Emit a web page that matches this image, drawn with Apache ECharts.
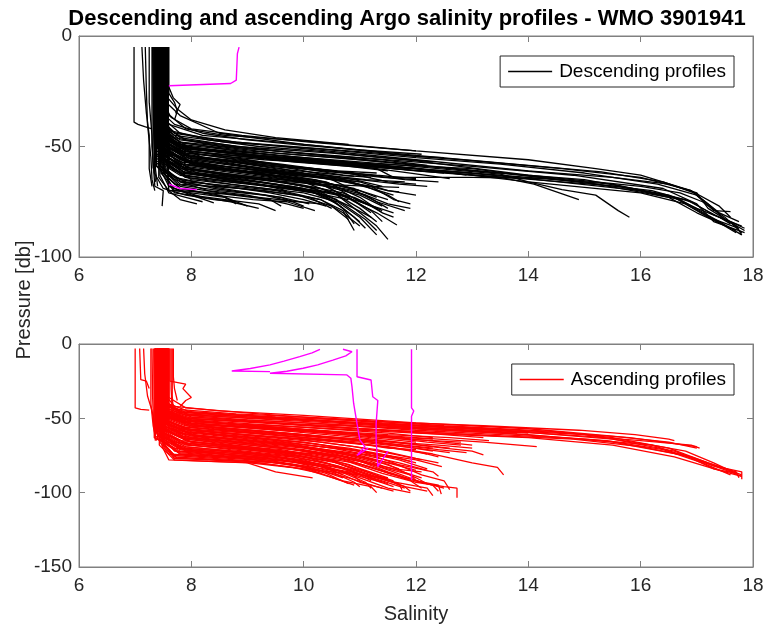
<!DOCTYPE html>
<html>
<head>
<meta charset="utf-8">
<script src="https://cdn.jsdelivr.net/npm/echarts@6/dist/echarts.min.js"></script>
<style>html,body{margin:0;padding:0;background:#fff}#c{width:768px;height:629px}</style>
</head>
<body>
<div id="c"></div>
<script>
// ---- Data: salinity / pressure profiles [salinity, pressure] ----
const titleText = 'Descending and ascending Argo salinity profiles - WMO 3901941';
const salinityTicks = [6, 8, 10, 12, 14, 16, 18];
const descPressureTicks = [0, -50, -100];
const ascPressureTicks = [0, -50, -100, -150];

const descProfiles = [
  [[7.50,-5],[7.50,-30],[7.62,-36],[7.9,-42],[8.6,-45],[10.0,-47.5],[12.0,-52],[14.0,-56],[15.2,-60],[16.0,-63],[16.9,-70],[17.2,-76],[17.5,-83],[17.85,-88]],
  [[7.45,-5],[7.45,-33],[7.6,-40],[8.2,-45],[10.0,-49],[12.0,-54],[14.0,-58.5],[15.3,-61.5],[16.4,-66],[16.95,-71],[17.3,-79],[17.6,-79.5]],
  [[7.40,-5],[7.42,-36],[7.65,-43],[8.4,-47],[10.0,-51],[12.0,-56],[14.0,-61],[15.5,-64],[16.5,-67],[17.0,-71],[17.2,-78],[17.7,-86],[17.8,-90]],
  [[7.55,-5],[7.55,-40],[7.8,-46],[8.8,-50],[10.5,-53],[12.0,-56.5],[14.0,-63],[16.0,-68],[16.7,-71],[17.1,-75],[17.5,-82],[17.8,-89]],
  [[7.35,-5],[7.38,-42],[7.7,-48],[9.0,-52],[11.0,-56],[13.0,-61],[15.0,-65],[16.5,-72],[17.0,-78],[17.6,-84],[17.85,-87]],
  [[7.48,-5],[7.48,-44],[7.75,-49],[9.0,-54],[11.0,-58],[12.5,-61],[14.0,-64.5],[16.0,-70],[16.8,-74],[17.4,-82],[17.6,-85]],
  [[7.52,-5],[7.52,-41],[7.9,-47],[9.5,-52],[11.5,-57],[13.5,-62],[15.0,-66],[16.5,-73],[17.0,-80],[17.7,-88]],
  [[7.42,-5],[7.44,-45],[7.8,-51],[9.5,-55],[11.5,-59],[13.5,-63],[15.5,-67],[16.6,-73],[17.2,-82],[17.75,-87]],
  [[7.46,-5],[7.46,-43],[7.8,-49],[9.2,-53],[11.0,-57.5],[13.0,-60],[14.5,-65],[16.2,-70],[16.9,-75],[17.3,-81],[17.8,-86]],
  [[7.38,-5],[7.40,-46],[7.85,-52],[10.0,-57],[12.0,-60],[14.0,-66],[16.0,-71],[16.8,-76],[17.3,-83],[17.7,-89]],
  [[7.44,-5],[7.44,-39],[7.7,-45],[8.6,-48],[10.2,-51],[12.0,-55],[13.5,-58],[15.0,-62],[16.3,-67],[17.0,-72],[17.4,-80],[17.75,-84]],
  [[7.49,-5],[7.49,-42],[7.8,-48],[9.0,-51],[11.0,-55],[13.0,-59],[14.8,-63],[16.4,-69],[17.0,-76],[17.3,-84],[17.85,-89]],
  [[7.41,-5],[7.41,-37],[7.7,-44],[8.8,-48],[10.8,-52],[12.8,-56],[14.6,-60],[16.0,-64],[16.9,-70],[17.4,-77],[17.6,-82]],
  [[7.54,-5],[7.54,-46],[7.9,-52],[9.6,-56],[11.6,-60],[13.6,-64],[15.6,-68],[16.7,-74],[17.4,-84],[17.8,-90]],
  [[7.44,-5],[7.45,-44],[7.8,-50],[9.5,-54],[11.5,-58],[13.5,-62.5],[14.0,-66],[14.6,-69.5],[15.2,-72],[15.6,-79],[15.8,-82]],
  [[7.50,-5],[7.50,-45],[7.9,-51],[10.0,-56],[12.0,-61],[13.5,-64],[14.1,-67],[14.9,-74]],
  [[7.47,-5],[7.47,-42],[7.8,-50],[9.5,-56],[11.3,-60],[11.6,-64],[13.0,-64],[14.45,-64.5]],
  [[7.36,-5],[7.37,-47],[7.9,-55],[9.5,-61],[11.0,-66],[11.5,-70],[11.7,-70.5]],
  [[7.53,-5],[7.53,-48],[8.0,-56],[10.0,-63],[11.2,-68],[11.6,-74],[11.9,-76]],
  [[7.58,-5],[7.58,-28],[7.75,-33],[8.0,-38],[8.6,-42.5],[9.5,-46],[10.8,-49]],
  [[7.50,-5],[7.55,-30],[7.8,-36],[8.5,-44],[10.0,-49],[12.0,-54.5],[12.5,-55]],
  [[7.37,-5],[7.37,-43],[7.8,-50],[9.2,-54],[10.8,-57],[12.0,-60],[12.9,-63]],
  [[7.50,-5],[7.50,-47],[7.9,-54],[9.4,-58],[10.9,-62],[11.8,-65],[12.4,-66]],
  [[7.45,-5],[7.45,-40],[7.8,-47],[9.0,-51],[10.4,-54],[11.4,-56],[12.2,-58.5]],
  [[7.56,-5],[7.56,-44],[8.0,-51],[9.5,-55],[11.0,-59],[11.9,-62],[12.6,-64.5]],
  [[7.53,-5],[7.53,-38],[7.8,-44],[8.3,-47],[9.2,-50],[10.2,-52],[11.2,-54.5],[12.3,-57]],
  [[7.45,-5],[7.45,-34],[7.7,-40],[8.2,-44],[9.0,-47],[10.0,-49.5],[11.0,-51.5],[12.1,-53.5]],
  [[7.41,-5],[7.41,-31],[7.65,-37],[8.0,-42],[8.9,-45],[10.1,-48],[11.5,-51],[12.0,-52]],
  [[7.45,-5],[7.45,-50],[7.8,-58],[9.0,-62],[10.0,-66],[10.6,-72],[11.0,-80],[11.3,-86],[11.5,-92]],
  [[7.40,-5],[7.42,-52],[7.9,-60],[9.2,-64],[10.2,-69],[10.7,-76],[11.1,-83],[11.3,-88]],
  [[7.50,-5],[7.50,-49],[8.0,-57],[9.5,-62],[10.4,-68],[10.9,-75],[11.3,-80],[11.66,-85.5]],
  [[7.55,-5],[7.55,-47],[8.2,-55],[9.6,-60],[10.5,-65],[11.0,-71],[11.5,-76],[11.9,-78]],
  [[7.34,-5],[7.36,-53],[7.9,-61],[9.0,-65],[10.0,-69],[10.5,-74],[10.8,-80],[11.0,-84]],
  [[7.48,-5],[7.48,-51],[8.1,-59],[9.4,-63],[10.3,-67],[10.8,-73],[11.2,-79],[11.4,-84]],
  [[7.43,-5],[7.43,-48],[8.0,-55],[9.8,-60],[10.6,-64],[11.1,-68],[11.5,-72],[11.7,-75]],
  [[7.52,-5],[7.52,-54],[8.0,-62],[9.2,-66],[10.1,-70],[10.6,-76],[10.9,-82],[11.1,-87]],
  [[7.38,-5],[7.38,-50],[7.9,-57],[9.3,-61],[10.4,-66],[11.0,-73],[11.4,-80],[11.6,-82]],
  [[7.46,-5],[7.46,-55],[8.2,-63],[9.5,-67],[10.3,-71],[10.7,-78],[10.9,-85]],
  [[7.41,-5],[7.41,-46],[7.9,-53],[9.6,-58],[10.8,-62],[11.5,-66],[12.0,-67]],
  [[7.57,-5],[7.57,-52],[8.3,-60],[9.8,-64],[10.6,-69],[11.0,-75],[11.3,-78]],
  [[7.39,-5],[7.39,-45],[7.8,-52],[8.8,-56],[9.8,-59],[10.6,-61],[11.3,-62]],
  [[7.47,-5],[7.47,-49],[7.9,-55],[9.0,-59],[10.0,-62],[10.9,-65],[11.4,-68]],
  [[7.52,-5],[7.52,-51],[8.0,-58],[9.1,-62],[10.1,-65],[10.9,-69],[11.3,-73]],
  [[7.43,-5],[7.43,-53],[7.9,-60],[8.9,-64],[9.9,-67],[10.7,-71],[11.2,-77],[11.4,-80]],
  [[7.35,-5],[7.35,-56],[7.8,-63],[8.8,-66],[9.7,-69],[10.4,-72],[10.9,-78],[11.2,-82]],
  [[7.58,-5],[7.58,-58],[8.0,-65],[9.0,-68],[10.0,-71],[10.6,-75],[11.0,-82],[11.3,-90]],
  [[7.48,-5],[7.48,-60],[7.8,-67],[8.9,-69],[9.9,-72],[10.5,-77],[10.8,-83]],
  [[7.40,-5],[7.40,-47],[7.8,-53],[8.7,-57],[9.5,-60],[10.3,-62],[10.9,-63.5]],
  [[7.54,-5],[7.54,-50],[7.9,-57],[8.8,-61],[9.6,-64],[10.4,-66.5],[11.0,-70]],
  [[7.44,-5],[7.44,-54],[7.8,-61],[8.6,-65],[9.4,-68],[10.2,-71],[10.6,-74]],
  [[7.36,-5],[7.36,-57],[7.7,-64],[8.5,-68],[9.3,-70],[10.1,-73],[10.5,-78]],
  [[7.51,-5],[7.51,-59],[7.8,-66],[8.3,-70],[9.0,-72],[9.7,-76],[10.0,-78]],
  [[7.46,-5],[7.46,-62],[7.7,-69],[8.2,-73],[8.7,-75],[9.2,-78]],
  [[7.42,-5],[7.42,-64],[7.6,-70],[7.8,-74],[8.1,-76]],
  [[7.57,-5],[7.57,-55],[8.0,-60],[8.8,-63],[9.6,-65],[10.4,-68],[11.0,-72],[11.4,-77]],
  [[7.38,-5],[7.38,-52],[7.8,-58],[8.7,-61],[9.7,-64],[10.5,-67],[11.0,-70],[11.5,-74]],
  [[7.49,-5],[7.49,-46],[7.9,-52],[8.7,-54],[9.8,-57],[10.8,-59],[11.5,-61]],
  [[7.59,-5],[7.59,-66],[7.7,-71],[8.0,-72],[8.6,-74],[9.2,-76],[9.5,-79]],
  [[7.34,-5],[7.34,-62],[7.5,-69],[7.9,-72],[8.4,-74],[8.8,-75]],
  [[7.50,-5],[7.50,-55],[7.9,-62],[8.9,-66],[9.8,-69],[10.5,-71],[11.0,-75],[11.6,-80]],
  [[7.47,-5],[7.47,-57],[7.9,-63],[8.7,-66],[9.5,-68],[10.3,-70],[10.9,-73],[11.4,-79]],
  [[7.55,-5],[7.55,-53],[8.1,-58],[9.0,-61],[10.0,-63],[10.8,-66],[11.5,-70],[12.0,-72]],
  [[7.39,-5],[7.39,-49],[7.9,-56],[8.6,-59],[9.4,-61],[10.4,-63],[11.1,-65],[11.8,-66]],
  [[7.43,-5],[7.43,-60],[7.9,-66],[8.8,-68],[9.5,-70],[10.3,-74],[10.7,-80],[11.0,-86]],
  [[7.42,-5],[7.42,-48],[7.85,-54],[8.9,-57],[9.9,-60],[10.7,-62],[11.4,-64],[12.0,-65]],
  [[7.52,-5],[7.52,-52],[7.9,-59],[8.8,-62],[9.7,-65],[10.5,-68],[11.1,-72],[11.5,-78]],
  [[7.37,-5],[7.37,-54],[7.8,-60],[8.6,-63],[9.5,-66],[10.3,-69],[10.8,-73],[11.2,-80]],
  [[7.55,-5],[7.55,-57],[7.9,-64],[8.7,-67],[9.6,-70],[10.3,-74],[10.7,-79],[10.9,-88]],
  [[7.45,-5],[7.45,-59],[7.8,-65],[8.6,-68],[9.4,-71],[10.0,-74],[10.4,-77]],
  [[7.49,-5],[7.49,-56],[7.9,-62],[9.0,-64],[10.1,-66],[10.9,-70],[11.3,-75],[11.8,-79]],
  [[7.40,-5],[7.40,-51],[7.8,-57],[8.9,-60],[10.0,-63],[11.0,-65],[11.7,-67],[12.2,-68]],
  [[7.58,-5],[7.58,-49],[8.0,-55],[9.2,-58],[10.4,-61],[11.3,-63],[12.0,-64.5]],
  [[7.44,-5],[7.44,-47],[7.9,-53],[9.3,-56],[10.6,-58],[11.6,-60],[12.5,-62]],
  [[7.51,-5],[7.51,-61],[7.8,-68],[8.5,-71],[9.2,-73],[9.9,-75],[10.3,-76]],
  [[7.35,-5],[7.35,-58],[7.7,-65],[8.4,-69],[9.0,-71],[9.6,-73],[10.1,-76]],
  [[7.47,-5],[7.47,-52],[7.9,-58],[8.9,-61],[9.8,-63],[10.6,-65],[11.2,-69],[11.6,-72]],
  [[7.56,-5],[7.56,-46],[8.0,-51],[9.0,-54],[10.1,-57],[11.2,-59],[11.9,-60]],
  [[7.41,-5],[7.41,-55],[7.8,-62],[8.8,-65],[9.8,-68],[10.6,-72],[11.0,-78],[11.3,-84]],
  [[7.53,-5],[7.53,-63],[7.8,-69],[8.4,-72],[9.1,-74],[9.7,-75],[10.2,-79]],
  [[7.38,-5],[7.38,-44],[7.8,-50],[8.8,-53],[10.0,-56],[11.2,-58],[12.4,-61],[13.0,-62]],
  [[7.44,-5],[7.44,-60],[7.6,-68],[8.0,-72],[8.4,-75.5]],
  [[7.50,-5],[7.50,-62],[7.8,-69],[8.5,-72],[9.0,-77]],
  [[7.40,-5],[7.42,-58],[7.8,-66],[8.8,-70],[9.6,-73],[10.0,-77]],
  [[7.47,-5],[7.47,-57],[7.9,-64],[9.0,-67],[10.0,-70],[10.8,-74]],
  [[7.53,-5],[7.53,-56],[8.0,-62],[9.2,-65],[10.3,-67],[11.2,-68],[11.7,-68.5]],
  [[7.37,-5],[7.38,-59],[7.7,-67],[8.5,-70],[9.3,-72],[9.8,-75]],
  [[7.49,-5],[7.50,-61],[7.7,-70],[8.0,-71],[8.6,-73],[8.8,-76]],
  [[7.43,-5],[7.44,-63],[7.6,-71],[7.9,-73],[8.2,-75]],
  [[7.55,-5],[7.55,-45],[8.0,-52],[9.0,-56],[10.0,-60],[10.7,-63],[11.2,-64]],
  [[7.39,-5],[7.40,-48],[7.9,-54],[8.8,-58],[9.8,-62],[10.5,-64.5],[11.0,-66]],
  [[7.46,-5],[7.46,-50],[7.8,-56],[8.6,-60],[9.5,-63],[10.2,-65],[10.5,-67]],
  [[7.51,-5],[7.51,-53],[7.8,-59],[8.7,-63],[9.6,-66],[10.0,-68],[10.3,-70]],
  [[7.36,-5],[7.36,-55],[7.7,-61],[8.4,-64],[9.2,-67],[9.7,-70]],
  [[7.58,-5],[7.58,-64],[7.60,-70],[7.8,-70],[8.6,-71.5],[9.4,-74],[9.6,-77]],
  [[7.42,-5],[7.42,-40],[7.7,-46],[8.5,-50],[9.5,-53],[10.6,-55],[11.4,-57]],
  [[7.47,-5],[7.47,-43],[7.8,-48],[8.8,-52],[10.0,-55.5],[11.0,-58],[12.1,-60]],
  [[6.98,-5],[6.98,-39],[7.05,-40],[7.17,-41],[7.3,-42]],
  [[7.12,-5],[7.15,-20],[7.20,-35],[7.25,-45],[7.25,-60],[7.30,-68]],
  [[7.18,-5],[7.20,-25],[7.22,-40],[7.28,-55],[7.30,-65],[7.35,-70]],
  [[7.25,-5],[7.25,-30],[7.30,-45],[7.32,-60]],
  [[7.30,-5],[7.30,-50],[7.35,-68],[7.50,-70],[7.48,-77]],
  [[7.33,-5],[7.33,-40],[7.36,-60],[7.40,-68]],
  [[7.31,-5],[7.32,-30],[7.34,-55],[7.36,-66]],
  [[7.56,-5],[7.56,-35],[7.62,-45],[7.60,-60]],
  [[7.60,-5],[7.60,-26],[7.70,-30],[7.75,-34],[7.70,-38]],
  [[7.57,-5],[7.58,-22],[7.68,-28],[7.80,-31],[7.72,-35]]
];
const descAnomalies = [
  [[8.85,-5],[8.82,-8],[8.80,-20],[8.70,-21.5],[7.60,-22.5]],
  [[7.60,-67],[7.80,-69],[8.10,-69.5]]
];

const ascProfiles = [
  [[7.55,-3],[7.55,-35],[7.7,-42],[8.5,-45],[10.0,-48],[12.0,-53],[14.0,-57],[15.5,-62],[16.5,-66],[17.0,-70]],
  [[7.50,-3],[7.50,-38],[7.75,-44],[8.8,-47],[10.5,-50],[12.5,-55],[14.5,-59],[15.5,-63],[16.5,-70],[17.2,-80],[17.7,-86],[17.75,-90]],
  [[7.45,-3],[7.46,-40],[7.8,-46],[9.0,-49],[11.0,-53],[13.0,-57],[15.0,-61],[16.2,-68],[17.0,-78],[17.6,-86],[17.8,-89]],
  [[7.60,-3],[7.60,-36],[7.9,-43],[9.2,-47],[11.4,-53],[13.5,-58],[15.5,-64],[16.6,-72],[17.3,-82],[17.8,-86],[17.8,-91]],
  [[7.40,-3],[7.42,-42],[7.85,-49],[9.5,-52],[11.5,-56],[13.5,-60],[15.4,-65],[16.4,-71],[17.1,-80],[17.6,-88]],
  [[7.52,-3],[7.52,-44],[8.0,-50],[10.0,-54],[12.0,-57],[14.0,-61],[15.5,-66],[16.8,-75],[17.3,-84],[17.7,-87]],
  [[7.48,-3],[7.48,-39],[7.9,-46],[9.8,-50],[11.5,-54],[13.5,-58.5],[15.0,-62],[16.0,-65],[16.9,-68],[17.05,-70]],
  [[7.35,-3],[7.36,-45],[7.9,-52],[10.0,-56],[12.0,-60],[14.0,-63],[15.5,-68],[16.6,-76],[17.4,-85],[17.8,-89]],
  [[7.47,-3],[7.47,-42],[7.9,-48],[9.0,-51],[10.5,-54],[12.0,-58],[13.5,-61],[15.0,-64],[16.2,-68],[16.8,-72],[17.3,-80],[17.7,-87]],
  [[7.53,-3],[7.53,-41],[7.9,-47],[9.5,-50],[11.0,-53],[12.8,-56],[14.5,-59.5],[15.8,-63],[16.6,-67],[17.0,-69]],
  [[7.42,-3],[7.42,-43],[7.8,-50],[9.2,-53],[11.0,-57],[13.0,-61],[14.8,-64],[16.0,-69],[16.9,-76],[17.5,-84],[17.8,-88]],
  [[7.58,-3],[7.58,-40],[8.0,-46],[9.5,-49],[11.2,-52],[13.2,-55],[14.9,-58],[15.9,-61],[16.5,-64],[16.6,-65]],
  [[7.50,-3],[7.50,-46],[8.0,-53],[10.0,-58],[12.0,-63],[13.2,-66],[14.15,-69]],
  [[7.44,-3],[7.44,-50],[8.0,-58],[10.0,-64],[11.5,-69],[12.3,-74],[13.0,-80],[13.45,-83],[13.56,-88]],
  [[7.56,-3],[7.56,-48],[8.1,-55],[10.0,-61],[11.6,-66],[12.5,-70],[13.0,-72],[13.2,-74.6]],
  [[7.38,-3],[7.40,-52],[8.0,-60],[9.6,-66],[11.0,-72],[12.0,-78],[12.46,-82.5]],
  [[7.46,-3],[7.46,-47],[8.0,-54],[10.0,-59],[11.8,-64],[12.8,-66]],
  [[7.53,-3],[7.53,-43],[8.0,-49],[9.5,-53],[11.0,-57],[12.5,-60],[13.5,-62]],
  [[7.49,-3],[7.49,-48],[8.0,-55],[9.6,-60],[11.2,-65],[12.4,-68],[13.0,-70]],
  [[7.40,-3],[7.40,-49],[7.9,-56],[9.4,-61],[11.0,-66],[12.0,-70],[12.6,-73]],
  [[7.55,-3],[7.55,-46],[8.0,-52],[9.8,-57],[11.5,-61],[12.6,-63],[13.3,-65]],
  [[7.45,-3],[7.45,-39],[7.8,-45],[8.6,-47],[9.6,-50],[10.8,-53],[12.0,-56],[13.0,-58],[14.0,-60]],
  [[7.42,-3],[7.42,-55],[8.0,-63],[9.5,-69],[10.5,-75],[11.3,-84],[12.0,-93],[12.5,-96],[12.73,-97],[12.73,-103.5]],
  [[7.50,-3],[7.50,-57],[8.0,-66],[9.5,-72],[10.5,-79],[11.2,-88],[11.8,-96],[12.2,-99]],
  [[7.36,-3],[7.38,-60],[7.9,-69],[9.2,-74],[10.3,-81],[11.0,-90],[11.5,-97],[11.9,-100]],
  [[7.58,-3],[7.58,-54],[8.1,-62],[9.8,-68],[10.8,-76],[11.5,-86],[12.0,-92],[12.4,-95],[12.45,-101]],
  [[7.45,-3],[7.45,-62],[7.9,-71],[9.0,-76],[10.0,-82],[10.8,-90],[11.3,-96],[11.6,-99]],
  [[7.52,-3],[7.52,-58],[8.0,-66],[9.6,-71],[10.7,-78],[11.4,-87],[11.9,-92],[12.1,-97]],
  [[7.40,-3],[7.40,-64],[7.8,-73],[9.0,-77],[10.0,-83],[10.6,-91],[10.9,-95]],
  [[7.48,-3],[7.48,-66],[7.7,-76],[9.0,-79],[10.0,-84],[10.7,-92],[11.2,-96],[11.3,-100]],
  [[7.55,-3],[7.55,-52],[8.2,-60],[10.0,-66],[11.0,-72],[11.6,-80],[12.1,-88],[12.5,-92],[12.6,-98]],
  [[7.33,-3],[7.34,-63],[7.8,-72],[9.2,-76],[10.4,-83],[11.0,-93],[11.4,-97]],
  [[7.47,-3],[7.47,-59],[8.0,-68],[9.5,-73],[10.6,-80],[11.2,-89],[11.7,-94],[11.75,-98]],
  [[7.43,-3],[7.43,-68],[7.7,-78],[9.0,-80],[9.5,-86],[10.16,-90]],
  [[7.50,-3],[7.50,-67],[7.75,-77],[8.8,-79],[10.0,-84],[11.0,-88],[11.5,-90]],
  [[7.60,-3],[7.60,-56],[8.3,-64],[10.0,-70],[11.0,-76],[11.8,-82],[12.3,-86],[12.4,-89]],
  [[7.39,-3],[7.39,-61],[7.9,-70],[9.4,-75],[10.8,-84],[11.5,-92],[12.2,-97],[12.3,-102]],
  [[7.46,-3],[7.46,-45],[8.0,-52],[9.5,-56],[10.8,-60],[11.6,-63]],
  [[7.54,-3],[7.54,-49],[8.0,-56],[9.5,-61],[10.8,-66],[11.5,-70],[12.0,-71]],
  [[7.41,-3],[7.42,-51],[7.9,-59],[9.3,-64],[10.5,-70],[11.2,-75],[11.6,-76]],
  [[7.57,-3],[7.57,-47],[8.2,-54],[9.8,-59],[11.0,-63],[11.9,-67]],
  [[7.49,-3],[7.49,-53],[8.0,-61],[9.5,-67],[10.6,-73],[11.2,-79],[11.4,-82]],
  [[7.37,-3],[7.37,-56],[7.9,-64],[9.0,-69],[10.0,-74],[10.6,-79]],
  [[7.44,-3],[7.44,-41],[7.8,-47],[9.0,-50],[10.5,-53],[11.8,-56],[12.4,-58]],
  [[7.51,-3],[7.51,-65],[7.8,-74],[9.0,-77],[10.0,-80],[10.8,-86],[11.0,-92]],
  [[7.45,-3],[7.45,-54],[8.0,-62],[9.8,-68],[11.0,-75],[11.7,-82],[12.0,-85]],
  [[7.58,-3],[7.58,-50],[8.4,-57],[10.0,-62],[11.3,-66],[12.3,-70]],
  [[7.45,-3],[7.45,-44],[7.9,-51],[8.8,-54],[9.8,-57],[10.8,-60],[11.8,-63],[12.3,-64]],
  [[7.51,-3],[7.51,-47],[7.9,-54],[9.0,-58],[10.0,-61],[11.0,-65],[11.8,-69],[12.3,-72]],
  [[7.38,-3],[7.38,-50],[7.8,-57],[8.9,-61],[9.9,-64],[10.9,-69],[11.6,-74],[12.1,-78]],
  [[7.56,-3],[7.56,-52],[8.0,-59],[9.2,-63],[10.2,-67],[11.0,-72],[11.7,-78],[12.2,-84]],
  [[7.43,-3],[7.43,-54],[7.9,-61],[9.0,-65],[10.0,-69],[10.8,-74],[11.5,-81],[12.0,-90],[12.2,-94]],
  [[7.48,-3],[7.48,-56],[7.9,-63],[9.0,-67],[10.0,-71],[10.9,-77],[11.6,-86],[12.1,-93],[12.5,-97]],
  [[7.36,-3],[7.36,-58],[7.8,-65],[9.0,-69],[10.0,-74],[10.8,-81],[11.4,-90],[11.8,-96],[11.9,-99]],
  [[7.53,-3],[7.53,-60],[7.9,-68],[9.0,-71],[10.0,-76],[10.7,-83],[11.3,-92],[11.6,-96]],
  [[7.41,-3],[7.41,-62],[7.8,-70],[9.0,-73],[10.0,-78],[10.6,-85],[11.1,-93],[11.2,-97]],
  [[7.59,-3],[7.59,-64],[7.9,-72],[8.8,-75],[9.8,-79],[10.5,-86],[10.9,-93],[11.0,-96]],
  [[7.46,-3],[7.46,-65],[7.8,-74],[8.9,-77],[9.8,-81],[10.4,-87],[10.8,-94]],
  [[7.50,-3],[7.50,-68],[7.7,-77],[8.5,-78],[9.6,-80],[10.3,-85],[10.7,-90]],
  [[7.44,-3],[7.44,-51],[7.9,-58],[9.1,-62],[10.3,-66],[11.3,-71],[12.0,-77],[12.4,-80]],
  [[7.57,-3],[7.57,-45],[8.0,-51],[9.0,-55],[10.2,-58],[11.4,-62],[12.5,-66],[13.0,-68]],
  [[7.39,-3],[7.39,-53],[7.8,-60],[8.8,-64],[9.8,-67],[10.8,-71],[11.6,-76],[12.0,-80]],
  [[7.52,-3],[7.52,-55],[7.9,-63],[8.8,-66],[9.7,-70],[10.6,-75],[11.3,-82],[11.9,-88],[12.0,-92]],
  [[7.47,-3],[7.47,-61],[7.8,-69],[8.8,-72],[9.8,-76],[10.6,-82],[11.2,-90],[11.5,-94]],
  [[7.35,-3],[7.35,-57],[7.7,-66],[8.6,-69],[9.6,-73],[10.5,-79],[11.2,-87],[11.6,-92]],
  [[7.55,-3],[7.55,-63],[7.8,-71],[8.6,-74],[9.5,-77],[10.4,-83],[11.0,-89],[11.4,-93]],
  [[7.42,-3],[7.42,-58],[7.8,-66],[8.8,-70],[9.9,-74],[10.9,-80],[11.8,-90],[12.3,-95],[12.4,-99]],
  [[7.49,-3],[7.49,-66],[7.7,-75],[8.4,-77],[9.2,-79],[10.0,-82],[10.9,-87],[11.5,-91],[11.7,-95]],
  [[7.60,-3],[7.60,-48],[8.1,-55],[9.2,-59],[10.4,-63],[11.5,-67],[12.4,-71],[12.9,-73]],
  [[7.37,-3],[7.37,-46],[7.9,-53],[9.0,-56],[10.2,-59],[11.3,-62],[12.2,-66],[12.8,-68]],
  [[7.54,-3],[7.54,-59],[7.9,-67],[9.0,-70],[10.2,-74],[11.0,-79],[11.6,-84],[12.1,-86]],
  [[7.48,-3],[7.48,-69],[7.6,-78],[8.3,-79],[9.2,-80],[9.8,-83],[10.3,-87]],
  [[7.43,-3],[7.43,-44],[7.9,-50],[9.0,-52],[10.2,-55],[11.4,-58],[12.5,-61],[13.2,-63]],
  [[7.57,-3],[7.57,-42],[8.0,-48],[9.2,-50],[10.4,-52],[11.6,-55],[12.8,-58],[13.8,-60]],
  [[7.39,-3],[7.39,-47],[7.9,-53],[9.0,-56],[10.2,-59],[11.2,-63],[12.0,-66]],
  [[7.50,-3],[7.50,-50],[7.9,-57],[9.0,-60],[10.0,-63],[11.0,-67],[11.8,-71],[12.2,-74]],
  [[7.46,-3],[7.46,-52],[7.9,-59],[8.9,-63],[9.9,-66],[10.8,-70],[11.5,-75],[11.9,-79]],
  [[7.54,-3],[7.54,-54],[7.9,-61],[8.9,-64],[9.9,-68],[10.7,-73],[11.3,-79],[11.7,-84]],
  [[7.41,-3],[7.41,-56],[7.8,-63],[8.8,-67],[9.8,-71],[10.6,-76],[11.2,-83],[11.6,-88]],
  [[7.59,-3],[7.59,-58],[7.9,-65],[8.8,-69],[9.8,-73],[10.5,-78],[11.1,-85],[11.5,-90]],
  [[7.48,-3],[7.48,-60],[7.8,-67],[8.7,-71],[9.7,-75],[10.4,-80],[11.0,-88],[11.2,-92]],
  [[7.36,-3],[7.36,-62],[7.7,-70],[8.6,-73],[9.5,-76],[10.2,-81],[10.7,-88]],
  [[7.52,-3],[7.52,-64],[7.7,-72],[8.5,-75],[9.3,-77],[10.0,-80],[10.6,-85]],
  [[7.44,-3],[7.44,-66],[7.6,-74],[8.3,-76],[9.1,-78],[9.8,-81],[10.4,-86]],
  [[7.56,-3],[7.56,-45],[8.0,-51],[9.2,-54],[10.4,-57],[11.5,-60],[12.3,-63]],
  [[7.40,-3],[7.40,-48],[7.9,-55],[9.1,-58],[10.3,-62],[11.3,-65],[12.1,-68],[12.6,-70]],
  [[7.49,-3],[7.49,-57],[7.9,-64],[9.0,-68],[10.1,-72],[10.9,-77],[11.6,-84],[12.1,-90]],
  [[7.45,-3],[7.45,-63],[7.8,-71],[8.9,-74],[9.9,-78],[10.7,-84],[11.4,-92],[11.8,-97]],
  [[7.55,-3],[7.55,-51],[8.0,-58],[9.3,-62],[10.5,-65],[11.4,-69],[12.1,-73],[12.4,-76]],
  [[7.37,-3],[7.37,-55],[7.8,-62],[9.0,-66],[10.2,-70],[11.0,-74],[11.7,-80],[12.2,-85]],
  [[7.00,-3],[7.00,-43],[7.10,-44],[7.25,-44.5]],
  [[7.08,-3],[7.10,-24],[7.20,-25],[7.25,-30]],
  [[7.15,-3],[7.17,-20],[7.22,-35],[7.30,-45],[7.35,-55]],
  [[7.62,-3],[7.62,-25],[7.90,-27],[7.85,-30],[8.00,-36],[7.90,-38],[7.80,-42]],
  [[7.68,-3],[7.68,-22],[7.70,-30],[7.75,-38]],
  [[7.28,-3],[7.28,-40],[7.32,-55],[7.38,-65]],
  [[7.64,-3],[7.64,-30],[7.66,-45],[7.70,-52]],
  [[7.30,-3],[7.31,-35],[7.33,-55],[7.36,-65]],
  [[7.66,-3],[7.66,-35],[7.68,-45]]
];
const ascAnomalies = [
  [[10.29,-3.6],[10.15,-6],[9.93,-8.5],[9.65,-11.5],[9.40,-14],[9.05,-16.5],[8.72,-18.2],[9.40,-18.6]],
  [[10.70,-3.5],[10.86,-5.2],[10.75,-8],[10.52,-10.8],[10.25,-14],[9.99,-16.3],[9.70,-18.3],[9.40,-19.7],[10.77,-20.8],[10.84,-23],[10.86,-28.7],[10.89,-40],[10.95,-53.6],[11.0,-64.5],[11.09,-69],[10.95,-75],[11.15,-70]],
  [[10.95,-3.6],[10.95,-22],[11.20,-24.2],[11.23,-35.5],[11.32,-38],[11.29,-53.6],[11.29,-64.5],[11.32,-82.5],[11.50,-72]],
  [[11.92,-3.6],[11.92,-43],[11.96,-45],[11.92,-48.6],[11.92,-91.5]]
];

// ---- Chart ----
const FONT = 'Liberation Sans, Arial, Helvetica, sans-serif';
const AX = '#808080';
const TXT = '#262626';

function xAx(grid, pos) {
  return {
    type: 'value', gridIndex: grid, position: pos, min: 6, max: 18, interval: 2,
    axisLine: { show: true, onZero: false, lineStyle: { color: AX, width: 1 } },
    axisTick: { show: true, inside: true, length: 6, lineStyle: { color: AX } },
    axisLabel: { show: pos === 'bottom', margin: 9, fontSize: 19, color: TXT, fontFamily: FONT },
    splitLine: { show: false }
  };
}
function yAx(grid, pos, mn) {
  return {
    type: 'value', gridIndex: grid, position: pos, min: mn, max: 0, interval: 50,
    axisLine: { show: true, onZero: false, lineStyle: { color: AX, width: 1 } },
    axisTick: { show: true, inside: true, length: 6, lineStyle: { color: AX } },
    axisLabel: { show: pos === 'left', margin: 7, fontSize: 19, color: TXT, fontFamily: FONT },
    splitLine: { show: false }
  };
}

const series = [];
descProfiles.forEach(p => series.push({
  type: 'line', name: 'Descending profiles', xAxisIndex: 0, yAxisIndex: 0, data: p,
  symbol: 'none', showSymbol: false, silent: true, z: 2,
  itemStyle: { color: '#000000' }, lineStyle: { color: '#000000', width: 1.3 }
}));
descAnomalies.forEach(p => series.push({
  type: 'line', name: 'descAnomaly', xAxisIndex: 0, yAxisIndex: 0, data: p,
  symbol: 'none', showSymbol: false, silent: true, z: 3,
  itemStyle: { color: '#ff00ff' }, lineStyle: { color: '#ff00ff', width: 1.4 }
}));
ascProfiles.forEach(p => series.push({
  type: 'line', name: 'Ascending profiles', xAxisIndex: 2, yAxisIndex: 2, data: p,
  symbol: 'none', showSymbol: false, silent: true, z: 2,
  itemStyle: { color: '#ff0000' }, lineStyle: { color: '#ff0000', width: 1.3 }
}));
ascAnomalies.forEach(p => series.push({
  type: 'line', name: 'ascAnomaly', xAxisIndex: 2, yAxisIndex: 2, data: p,
  symbol: 'none', showSymbol: false, silent: true, z: 3,
  itemStyle: { color: '#ff00ff' }, lineStyle: { color: '#ff00ff', width: 1.4 }
}));

function legendFor(name, color, top) {
  return {
    data: [{ name: name, icon: 'rect', itemStyle: { color: color } }],
    right: 34, top: top, orient: 'horizontal',
    padding: [6, 8, 6, 8], itemWidth: 44, itemHeight: 1.5, itemGap: 0,
    backgroundColor: '#ffffff', borderColor: TXT, borderWidth: 1, borderRadius: 0,
    selectedMode: false,
    textStyle: { fontSize: 19, color: '#000', fontFamily: FONT, padding: [0, 0, 0, 2] }
  };
}

const chart = echarts.init(document.getElementById('c'), null, { renderer: 'canvas' });
chart.setOption({
  animation: false,
  backgroundColor: '#ffffff',
  grid: [
    { left: 79, right: 15, top: 36, height: 221, show: true, borderColor: AX, borderWidth: 1, backgroundColor: 'transparent' },
    { left: 79, right: 15, top: 344, height: 223, show: true, borderColor: AX, borderWidth: 1, backgroundColor: 'transparent' }
  ],
  xAxis: [xAx(0, 'bottom'), xAx(0, 'top'), xAx(1, 'bottom'), xAx(1, 'top')],
  yAxis: [yAx(0, 'left', -100), yAx(0, 'right', -100), yAx(1, 'left', -150), yAx(1, 'right', -150)],
  legend: [legendFor('Descending profiles', '#000000', 56), legendFor('Ascending profiles', '#ff0000', 364)],
  graphic: [
    { type: 'text', x: 407, y: 19, silent: true,
      style: { text: titleText, font: 'bold 22px ' + FONT, fill: '#000', align: 'center', verticalAlign: 'middle' } },
    { type: 'text', x: 416, y: 614, silent: true,
      style: { text: 'Salinity', font: '20px ' + FONT, fill: TXT, align: 'center', verticalAlign: 'middle' } },
    { type: 'text', x: 24, y: 300, rotation: Math.PI / 2, silent: true,
      style: { text: 'Pressure [db]', font: '20px ' + FONT, fill: TXT, align: 'center', verticalAlign: 'middle' } }
  ],
  series: series
});
</script>
</body>
</html>
